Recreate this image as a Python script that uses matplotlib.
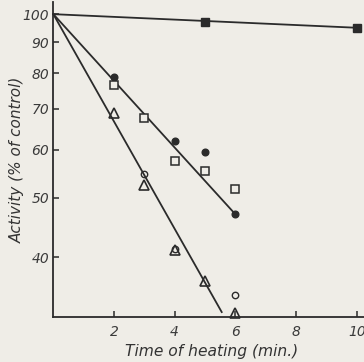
import matplotlib.pyplot as plt
from matplotlib.ticker import FixedLocator, NullLocator

# points (time in min, activity in % of control)
sq_filled_x = [5, 10]
sq_filled_y = [97, 95]
dot_filled_x = [2, 4, 5, 6]
dot_filled_y = [79, 62, 59.5, 47]
sq_open_x = [2, 3, 4, 5, 6]
sq_open_y = [76.5, 67.5, 57.5, 55.3, 51.7]
tri_open_x = [2, 3, 4, 5, 6]
tri_open_y = [68.9, 52.5, 41, 36.6, 32.4]
dot_open_x = [3, 4, 6]
dot_open_y = [54.8, 41.2, 34.6]

# fitted lines
line1_x, line1_y = [0, 10], [100, 95]
line2_x, line2_y = [0, 6], [100, 47]
line3_x, line3_y = [0, 5.55], [100, 32.5]

xticks = [2, 4, 6, 8, 10]
yticks = [40, 50, 60, 70, 80, 90, 100]

bg = "#efede7"
ink = "#2b2b2b"
plt.rcParams["font.family"] = ["Liberation Sans Narrow", "DejaVu Sans"]

fig = plt.figure(figsize=(3.64, 3.62), dpi=100, facecolor=bg)
ax = fig.add_axes([0.1465, 0.1243, 0.8535, 0.8702], facecolor=bg)

for lx, ly in [(line1_x, line1_y), (line2_x, line2_y), (line3_x, line3_y)]:
    ax.plot(lx, ly, color=ink, lw=1.3, clip_on=False)

ax.plot(sq_filled_x, sq_filled_y, "s", color=ink, ms=5.8, clip_on=False)
ax.plot(dot_filled_x, dot_filled_y, "o", color=ink, ms=4.8, clip_on=False)
ax.plot(sq_open_x, sq_open_y, "s", mfc=bg, mec=ink, mew=1.1, ms=5.2, clip_on=False)
ax.plot(tri_open_x, tri_open_y, "^", mfc="none", mec=ink, mew=1.2, ms=7, clip_on=False)
ax.plot(dot_open_x, dot_open_y, "o", mfc="none", mec=ink, mew=1.0, ms=4.6, clip_on=False)

ax.set_yscale("log")
ax.set_xlim(0, 10.24)
ax.set_ylim(31.9, 104.7)
ax.yaxis.set_major_locator(FixedLocator(yticks))
ax.yaxis.set_minor_locator(NullLocator())
ax.set_yticklabels([str(t) for t in yticks])
ax.set_xticks(xticks)

for s in ["top", "right"]:
    ax.spines[s].set_visible(False)
for s in ["left", "bottom"]:
    ax.spines[s].set_color(ink)
    ax.spines[s].set_linewidth(1.3)

ax.tick_params(direction="in", length=4.5, width=1.1, color=ink,
               labelcolor="#3a3a3a", labelsize=10)
ax.tick_params(axis="x", pad=6)
ax.tick_params(axis="y", pad=3)
for lab in ax.get_xticklabels() + ax.get_yticklabels():
    lab.set_style("italic")

ax.set_xlabel("Time of heating (min.)", fontsize=11.2, style="italic",
              color="#333333")
ax.set_ylabel("Activity (% of control)", fontsize=11, style="italic",
              color="#333333")
ax.xaxis.set_label_coords(0.51, -0.108, transform=ax.transAxes)
ax.yaxis.set_label_coords(-0.115, 0.50, transform=ax.transAxes)
ax.xaxis.label.set_va("center")
ax.yaxis.label.set_va("center")

fig.savefig("out.png", dpi=100, facecolor=bg)
